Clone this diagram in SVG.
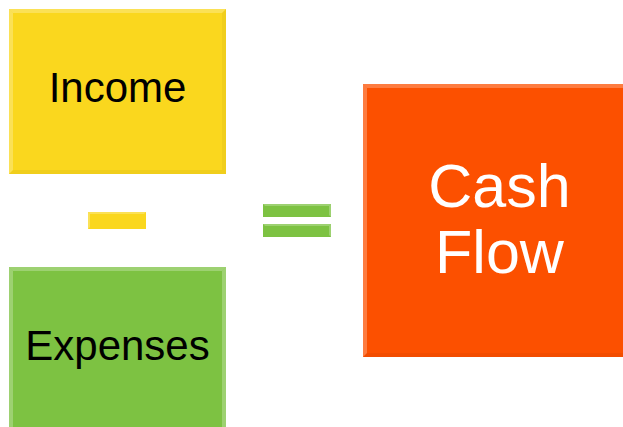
<svg xmlns="http://www.w3.org/2000/svg" width="623" height="427" viewBox="0 0 623 427">
<style>
.lbl{font-family:"Liberation Sans",Arial,sans-serif;text-anchor:middle}
.dark{fill:#000}
.light{fill:#fff}
.hl{fill:#fff;opacity:0.25}
.sh{fill:#000;opacity:0.04}
</style>
<rect width="623" height="427" fill="#fff"/>
<g id="income">
<rect x="9" y="9" width="217" height="165" fill="#FAD71E"/>
<polygon class="hl" points="9,9 226,9 222,13 13,13"/>
<polygon class="hl" points="9,9 13,13 13,170 9,174"/>
<polygon class="sh" points="226,9 226,174 222,170 222,13"/>
<polygon class="sh" points="9,174 226,174 222,170 13,170"/>
<text class="lbl dark" x="117.5" y="102" font-size="42">Income</text>
</g>
<g id="minus">
<rect x="88" y="212" width="58" height="17" fill="#FAD71E"/>
<polygon class="hl" points="88,212 146,212 144,214 90,214"/>
<polygon class="hl" points="88,212 90,214 90,227 88,229"/>
</g>
<g id="equals">
<rect x="263" y="204" width="68" height="13" fill="#7DC242"/>
<polygon class="hl" points="263,204 331,204 329,206 265,206"/>
<polygon class="hl" points="331,204 331,217 329,215 329,206"/>
<rect x="263" y="224" width="68" height="13" fill="#7DC242"/>
<polygon class="hl" points="263,224 331,224 329,226 265,226"/>
<polygon class="hl" points="331,224 331,237 329,235 329,226"/>
</g>
<g id="expenses">
<rect x="9" y="267" width="217" height="170" fill="#7DC242"/>
<polygon class="hl" points="9,267 226,267 222,271 13,271"/>
<polygon class="hl" points="9,267 13,271 13,437 9,437"/>
<polygon class="hl" points="226,267 226,437 222,437 222,271"/>
<text class="lbl dark" x="117.5" y="360" font-size="42">Expenses</text>
</g>
<g id="cashflow">
<rect x="363" y="84" width="273" height="273" fill="#FC5000"/>
<polygon class="hl" points="363,84 636,84 632,88 367,88"/>
<polygon class="hl" points="363,84 367,88 367,353 363,357"/>
<polygon class="sh" points="363,357 636,357 632,353 367,353"/>
<text class="lbl light" x="499.5" y="207" font-size="61">Cash</text>
<text class="lbl light" x="499.5" y="273" font-size="61">Flow</text>
</g>
<g id="connectors"></g>
</svg>
